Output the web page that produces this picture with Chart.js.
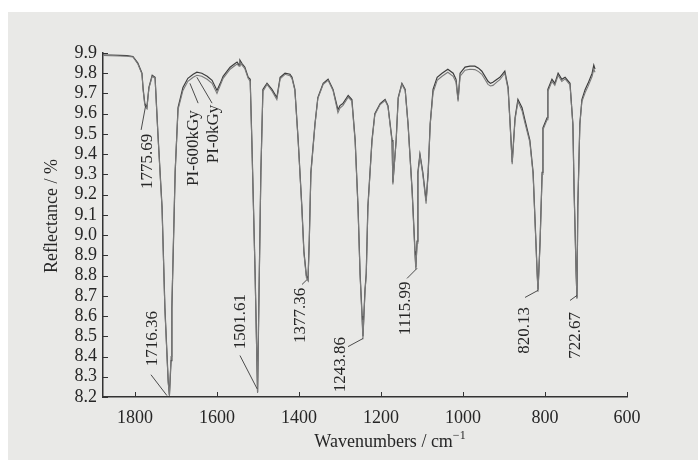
<!DOCTYPE html>
<html>
<head>
<meta charset="utf-8">
<script src="https://cdn.jsdelivr.net/npm/chart.js@4.4.1/dist/chart.umd.min.js"></script>
<style>
  html, body { margin: 0; padding: 0; background: #fff; }
  .wrap { position: relative; width: 698px; height: 462px; }
</style>
</head>
<body>
<div class="wrap"><canvas id="irChart"></canvas></div>
<script>
// FTIR reflectance of PI film, before and after 600 kGy
const wavenumbers = [
  1878, 1860, 1837, 1820, 1805, 1793, 1783, 1780, 1776, 1771, 1766, 1758, 1751, 1744, 1734, 1727, 1719, 1716, 1712, 1710,
  1702, 1695, 1683, 1671, 1658, 1649, 1637, 1624, 1612, 1600, 1592, 1585, 1568, 1556, 1551, 1546, 1544, 1539, 1532, 1524,
  1519, 1515, 1507, 1502, 1501, 1498, 1493, 1488, 1478, 1466, 1454, 1446, 1434, 1422, 1417, 1410, 1402, 1393, 1388, 1382,
  1378, 1375, 1371, 1361, 1354, 1341, 1329, 1317, 1305, 1300, 1293, 1280, 1271, 1263, 1256, 1251, 1246, 1244, 1239, 1236,
  1232, 1222, 1215, 1202, 1190, 1183, 1173, 1171, 1163, 1158, 1149, 1141, 1134, 1124, 1117, 1115, 1112, 1110, 1105, 1098,
  1090, 1085, 1080, 1073, 1063, 1051, 1037, 1024, 1017, 1012, 1007, 995, 983, 971, 962, 954, 939, 933, 927, 917,
  910, 898, 890, 885, 880, 873, 866, 856, 849, 837, 829, 824, 819, 817, 812, 807, 805, 795, 793, 783,
  776, 768, 759, 751, 739, 732, 729, 724, 722, 720, 715, 710, 702, 695, 685, 681, 678
];
const reflect600 = [
  9.890, 9.890, 9.888, 9.887, 9.883, 9.850, 9.800, 9.720, 9.650, 9.630, 9.730, 9.790, 9.780, 9.500, 9.140, 8.640, 8.280, 8.210, 8.380, 8.640,
  9.310, 9.630, 9.730, 9.775, 9.795, 9.805, 9.800, 9.785, 9.765, 9.715, 9.750, 9.785, 9.830, 9.848, 9.855, 9.840, 9.865, 9.848, 9.830, 9.780,
  9.770, 9.470, 8.810, 8.320, 8.225, 8.640, 9.310, 9.720, 9.750, 9.720, 9.680, 9.780, 9.800, 9.795, 9.780, 9.720, 9.470, 9.140, 8.920, 8.800,
  8.780, 8.970, 9.310, 9.550, 9.680, 9.750, 9.770, 9.720, 9.620, 9.640, 9.650, 9.690, 9.670, 9.470, 9.140, 8.810, 8.600, 8.500, 8.730, 8.810,
  9.140, 9.470, 9.600, 9.650, 9.670, 9.640, 9.470, 9.260, 9.470, 9.680, 9.750, 9.720, 9.550, 9.220, 8.920, 8.840, 8.970, 9.310, 9.400, 9.310,
  9.170, 9.310, 9.550, 9.720, 9.780, 9.800, 9.820, 9.800, 9.770, 9.670, 9.800, 9.830, 9.835, 9.835, 9.825, 9.810, 9.760, 9.750, 9.755, 9.770,
  9.780, 9.810, 9.730, 9.550, 9.360, 9.580, 9.670, 9.630, 9.570, 9.470, 9.310, 9.060, 8.810, 8.730, 8.970, 9.310, 9.530, 9.580, 9.720, 9.770,
  9.750, 9.800, 9.770, 9.780, 9.750, 9.550, 9.220, 8.810, 8.690, 9.140, 9.550, 9.670, 9.720, 9.750, 9.800, 9.840, 9.820
];
const reflect0 = [
  9.888, 9.887, 9.885, 9.884, 9.880, 9.846, 9.797, 9.715, 9.640, 9.625, 9.725, 9.785, 9.775, 9.495, 9.130, 8.630, 8.270, 8.205, 8.400, 8.660,
  9.320, 9.620, 9.715, 9.760, 9.780, 9.790, 9.785, 9.770, 9.750, 9.700, 9.740, 9.775, 9.820, 9.838, 9.845, 9.835, 9.855, 9.840, 9.822, 9.775,
  9.760, 9.460, 8.800, 8.310, 8.220, 8.650, 9.300, 9.710, 9.745, 9.712, 9.670, 9.772, 9.795, 9.788, 9.773, 9.715, 9.465, 9.130, 8.910, 8.790,
  8.775, 8.960, 9.300, 9.545, 9.675, 9.745, 9.765, 9.715, 9.605, 9.628, 9.640, 9.682, 9.662, 9.460, 9.130, 8.800, 8.580, 8.485, 8.720, 8.800,
  9.130, 9.460, 9.595, 9.645, 9.665, 9.635, 9.460, 9.250, 9.465, 9.675, 9.745, 9.715, 9.545, 9.210, 8.900, 8.830, 8.960, 9.300, 9.395, 9.300,
  9.155, 9.300, 9.545, 9.705, 9.765, 9.785, 9.805, 9.785, 9.755, 9.660, 9.785, 9.815, 9.820, 9.818, 9.808, 9.795, 9.745, 9.737, 9.740, 9.757,
  9.768, 9.800, 9.720, 9.540, 9.350, 9.570, 9.660, 9.615, 9.555, 9.460, 9.300, 9.050, 8.800, 8.720, 8.960, 9.300, 9.520, 9.570, 9.710, 9.760,
  9.740, 9.790, 9.760, 9.772, 9.742, 9.545, 9.215, 8.805, 8.685, 9.135, 9.545, 9.660, 9.705, 9.735, 9.785, 9.820, 9.805
];
const xTicks = [1800, 1600, 1400, 1200, 1000, 800, 600];
const yTicks = [8.2, 8.3, 8.4, 8.5, 8.6, 8.7, 8.8, 8.9, 9.0, 9.1, 9.2, 9.3, 9.4, 9.5, 9.6, 9.7, 9.8, 9.9];

// peak labels: text centre and leader line, in data units
const peakNotes = [
  { text: '1775.69', at: [1773, 9.365], from: [1785, 9.52], to: [1774, 9.64] },
  { text: 'PI-600kGy', at: [1658.5, 9.43], from: [1646, 9.652], to: [1666, 9.75] },
  { text: 'PI-0kGy', at: [1610, 9.50], from: [1612, 9.652], to: [1649, 9.78] },
  { text: '1716.36', at: [1758.5, 8.489], from: [1761, 8.31], to: [1722, 8.207] },
  { text: '1501.61', at: [1544, 8.573], from: [1544, 8.405], to: [1502, 8.24] },
  { text: '1377.36', at: [1397.5, 8.603], from: [1392.6, 8.756], to: [1380, 8.781] },
  { text: '1243.86', at: [1300, 8.36], from: [1280.4, 8.449], to: [1243.9, 8.489] },
  { text: '1115.99', at: [1141.4, 8.638], from: [1136.5, 8.786], to: [1112, 8.836] },
  { text: '820.13', at: [851.2, 8.529], from: [848.7, 8.692], to: [817, 8.727] },
  { text: '722.67', at: [726.8, 8.504], from: [739, 8.677], to: [722, 8.702] }
];

const SERIF = '"Liberation Serif", "Times New Roman", serif';
const INK = '#262626';

const toPoints = (ys) => wavenumbers.map((x, i) => ({ x, y: ys[i] }));

const paperPlugin = {
  id: 'paper',
  beforeDraw: (chart) => {
    const { ctx, width, height } = chart;
    ctx.save();
    ctx.fillStyle = '#ffffff';
    ctx.fillRect(0, 0, width, height);
    ctx.fillStyle = '#e9e9e7';
    ctx.fillRect(8, 12, width - 8, height - 14);
    ctx.restore();
  }
};

const decorPlugin = {
  id: 'decor',
  afterDraw: (chart) => {
    const { ctx, chartArea, scales: { x, y } } = chart;
    ctx.save();

    // inward tick marks
    ctx.strokeStyle = '#333';
    ctx.lineWidth = 1;
    ctx.beginPath();
    yTicks.forEach((v) => {
      const py = Math.round(y.getPixelForValue(v)) + 0.5;
      ctx.moveTo(chartArea.left, py);
      ctx.lineTo(chartArea.left + 5, py);
    });
    xTicks.forEach((v) => {
      const px = Math.round(x.getPixelForValue(v)) + 0.5;
      ctx.moveTo(px, chartArea.bottom);
      ctx.lineTo(px, chartArea.bottom - 5);
    });
    ctx.stroke();

    // peak labels
    ctx.fillStyle = INK;
    ctx.strokeStyle = '#3a3a3a';
    ctx.lineWidth = 0.9;
    ctx.font = `17px ${SERIF}`;
    ctx.textAlign = 'center';
    ctx.textBaseline = 'middle';
    peakNotes.forEach((note) => {
      ctx.beginPath();
      ctx.moveTo(x.getPixelForValue(note.from[0]), y.getPixelForValue(note.from[1]));
      ctx.lineTo(x.getPixelForValue(note.to[0]), y.getPixelForValue(note.to[1]));
      ctx.stroke();
      ctx.save();
      ctx.translate(x.getPixelForValue(note.at[0]), y.getPixelForValue(note.at[1]));
      ctx.rotate(-Math.PI / 2);
      ctx.fillText(note.text, 0, 1);
      ctx.restore();
    });

    // axis titles
    ctx.font = `18px ${SERIF}`;
    ctx.save();
    ctx.translate(chartArea.left - 51, (chartArea.top + chartArea.bottom) / 2 - 9);
    ctx.rotate(-Math.PI / 2);
    ctx.fillText('Reflectance / %', 0, 0);
    ctx.restore();

    const main = 'Wavenumbers / cm';
    const cx = (chartArea.left + chartArea.right) / 2 + 25;
    const ty = chartArea.bottom + 45;
    ctx.font = `18px ${SERIF}`;
    const wMain = ctx.measureText(main).width;
    ctx.font = `12px ${SERIF}`;
    const wSup = ctx.measureText('\u22121').width;
    const startX = cx - (wMain + wSup) / 2;
    ctx.textAlign = 'left';
    ctx.font = `18px ${SERIF}`;
    ctx.fillText(main, startX, ty);
    ctx.font = `12px ${SERIF}`;
    ctx.fillText('\u22121', startX + wMain, ty - 6);

    ctx.restore();
  }
};

const ctx = document.getElementById('irChart');
new Chart(ctx, {
  type: 'line',
  data: {
    datasets: [
      {
        label: 'PI-0kGy',
        data: toPoints(reflect0),
        borderColor: '#7a7a7a',
        borderWidth: 1.1,
        pointRadius: 0,
        tension: 0
      },
      {
        label: 'PI-600kGy',
        data: toPoints(reflect600),
        borderColor: '#3c3c3c',
        borderWidth: 1.2,
        pointRadius: 0,
        tension: 0
      }
    ]
  },
  options: {
    responsive: true,
    maintainAspectRatio: false,
    devicePixelRatio: 1,
    animation: false,
    layout: { padding: { top: 53, right: 71, left: 0, bottom: 0 } },
    plugins: { legend: { display: false }, tooltip: { enabled: false } },
    scales: {
      x: {
        type: 'linear',
        reverse: true,
        min: 600,
        max: 1878,
        afterBuildTicks: (scale) => { scale.ticks = xTicks.map((value) => ({ value })); },
        afterFit: (scale) => { scale.height = 65; },
        grid: { display: false, drawTicks: false },
        border: { display: true, color: '#333', width: 1.5 },
        ticks: {
          color: INK,
          font: { family: SERIF, size: 18 },
          padding: 10,
          maxRotation: 0,
          autoSkip: false,
          callback: (v) => String(v)
        }
      },
      y: {
        type: 'linear',
        min: 8.2,
        max: 9.9,
        afterBuildTicks: (scale) => { scale.ticks = yTicks.map((value) => ({ value })); },
        afterFit: (scale) => { scale.width = 103; },
        grid: { display: false, drawTicks: false },
        border: { display: true, color: '#333', width: 1.5 },
        ticks: {
          color: INK,
          font: { family: SERIF, size: 18 },
          padding: 6,
          autoSkip: false,
          callback: (v) => Number(v).toFixed(1)
        }
      }
    }
  },
  plugins: [paperPlugin, decorPlugin]
});
</script>
</body>
</html>
